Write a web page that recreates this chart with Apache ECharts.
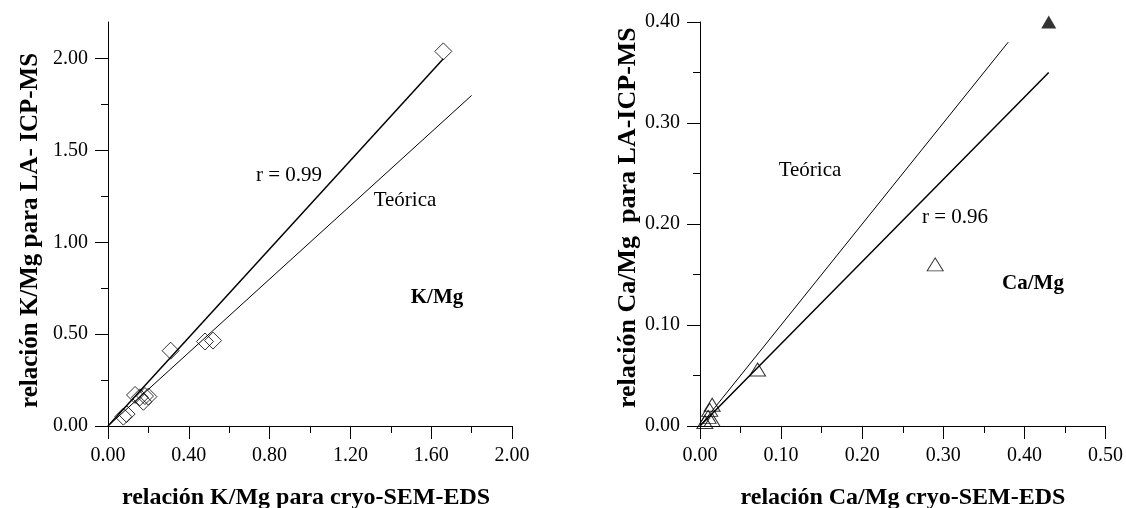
<!DOCTYPE html>
<html>
<head>
<meta charset="utf-8">
<script src="https://cdn.jsdelivr.net/npm/echarts@6/dist/echarts.min.js"></script>
<style>
  html, body { margin: 0; padding: 0; background: #fff; }
  #main { width: 1126px; height: 508px; }
</style>
</head>
<body>
<div id="main"></div>
<script>
// K/Mg: cryo-SEM-EDS (x) vs LA-ICP-MS (y)
var kmgX = [1.66, 0.52, 0.48, 0.31, 0.134, 0.158, 0.183, 0.20, 0.175, 0.076, 0.092];
var kmgY = [2.04, 0.465, 0.46, 0.41, 0.169, 0.156, 0.163, 0.16, 0.132, 0.051, 0.065];
var kmgFitX = [0, 1.66];
var kmgFitY = [0, 2.0];
var kmgTeoX = [0, 1.8];
var kmgTeoY = [0, 1.8];

// Ca/Mg
var camgX = [0.29, 0.071, 0.015, 0.012, 0.010, 0.006, 0.015];
var camgY = [0.16, 0.056, 0.021, 0.016, 0.009, 0.004, 0.006];
var camgFilledX = [0.43];
var camgFilledY = [0.40];
var camgFitX = [0, 0.43];
var camgFitY = [0, 0.35];
var camgTeoX = [0, 0.38];
var camgTeoY = [0, 0.38];

// ticks
var kmgYMajor = [0, 0.5, 1.0, 1.5, 2.0];
var kmgYMinor = [0.25, 0.75, 1.25, 1.75];

function pairs(xs, ys) {
  var out = [];
  for (var i = 0; i < xs.length; i++) out.push([xs[i], ys[i]]);
  return out;
}

var serif = 'Liberation Serif';
var lbl = { color: '#000', fontFamily: serif, fontSize: 20, margin: 20,
  formatter: function (v) { return Number(v).toFixed(2); } };
var line = { lineStyle: { color: '#000', width: 1 } };

function txt(x, y, s, bold, size, rot, align) {
  return { type: 'text', x: x, y: y, rotation: rot || 0,
    style: { text: s, font: (bold ? 'bold ' : '') + size + 'px "Liberation Serif"',
      fill: '#000', align: align || 'center', verticalAlign: 'middle' } };
}

var myChart = echarts.init(document.getElementById('main'));
var option = {
  backgroundColor: '#fff',
  animation: false,
  grid: [
    { left: 108, top: 22, width: 404, height: 404 },
    { left: 700, top: 22, width: 406, height: 404 }
  ],
  xAxis: [
    { type: 'value', gridIndex: 0, min: 0, max: 2.0, interval: 0.4,
      axisLine: line, splitLine: { show: false },
      axisTick: { length: 13, lineStyle: { color: '#000' } },
      minorTick: { show: true, splitNumber: 2, length: 7, lineStyle: { color: '#000' } },
      axisLabel: lbl },
    { type: 'value', gridIndex: 1, min: 0, max: 0.5, interval: 0.1,
      axisLine: line, splitLine: { show: false },
      axisTick: { length: 13, lineStyle: { color: '#000' } },
      minorTick: { show: true, splitNumber: 2, length: 7, lineStyle: { color: '#000' } },
      axisLabel: lbl }
  ],
  yAxis: [
    { type: 'value', gridIndex: 0, position: 'left', min: 0, max: 2.2,
      axisLine: { show: true, lineStyle: { color: '#000', width: 1 } }, splitLine: { show: false },
      axisTick: { length: 7, customValues: kmgYMinor, lineStyle: { color: '#000' } },
      axisLabel: { show: false } },
    { type: 'value', gridIndex: 0, position: 'left', min: 0, max: 2.2,
      axisLine: { show: false }, splitLine: { show: false },
      axisTick: { length: 13, customValues: kmgYMajor, lineStyle: { color: '#000' } },
      axisLabel: Object.assign({ customValues: kmgYMajor }, lbl) },
    { type: 'value', gridIndex: 1, min: 0, max: 0.4, interval: 0.1,
      axisLine: { show: true, lineStyle: { color: '#000', width: 1 } }, splitLine: { show: false },
      axisTick: { length: 13, lineStyle: { color: '#000' } },
      minorTick: { show: true, splitNumber: 2, length: 7, lineStyle: { color: '#000' } },
      axisLabel: lbl }
  ],
  series: [
    { type: 'line', xAxisIndex: 0, yAxisIndex: 0, data: pairs(kmgFitX, kmgFitY),
      symbol: 'none', silent: true, lineStyle: { color: '#000', width: 1.5 } },
    { type: 'line', xAxisIndex: 0, yAxisIndex: 0, data: pairs(kmgTeoX, kmgTeoY),
      symbol: 'none', silent: true, lineStyle: { color: '#000', width: 1 } },
    { type: 'scatter', xAxisIndex: 0, yAxisIndex: 0, data: pairs(kmgX, kmgY),
      symbol: 'diamond', symbolSize: 17,
      itemStyle: { color: 'transparent', borderColor: '#000', borderWidth: 1 } },

    { type: 'line', xAxisIndex: 1, yAxisIndex: 2, data: pairs(camgFitX, camgFitY),
      symbol: 'none', silent: true, lineStyle: { color: '#000', width: 1.5 } },
    { type: 'line', xAxisIndex: 1, yAxisIndex: 2, data: pairs(camgTeoX, camgTeoY),
      symbol: 'none', silent: true, lineStyle: { color: '#000', width: 1 } },
    { type: 'scatter', xAxisIndex: 1, yAxisIndex: 2, data: pairs(camgX, camgY),
      symbol: 'triangle', symbolSize: [16, 13],
      itemStyle: { color: 'transparent', borderColor: '#000', borderWidth: 1 } },
    { type: 'scatter', xAxisIndex: 1, yAxisIndex: 2, data: pairs(camgFilledX, camgFilledY),
      symbol: 'triangle', symbolSize: [15, 13],
      itemStyle: { color: '#000' } }
  ],
  graphic: [
    txt(31, 408, 'relación K/Mg para LA- ICP-MS', true, 25, Math.PI / 2, 'left'),
    txt(628, 408, 'relación Ca/Mg  para LA-ICP-MS', true, 26, Math.PI / 2, 'left'),
    txt(306, 498, 'relación K/Mg para cryo-SEM-EDS', true, 24),
    txt(903, 498, 'relación Ca/Mg cryo-SEM-EDS', true, 24),
    txt(289, 175, 'r = 0.99', false, 21),
    txt(405, 200, 'Teórica', false, 21),
    txt(437, 298, 'K/Mg', true, 21),
    txt(810, 170, 'Teórica', false, 21),
    txt(955, 217, 'r = 0.96', false, 21),
    txt(1033, 284, 'Ca/Mg', true, 21)
  ]
};
myChart.setOption(option);
</script>
</body>
</html>
